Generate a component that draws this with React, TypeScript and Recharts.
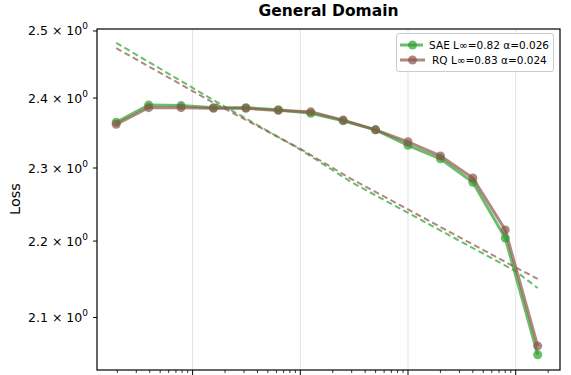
import { LineChart, Line, XAxis, YAxis, ReferenceLine } from "recharts";

// token counts (doubling each step)
const xTokens = [195312.5, 390625, 781250, 1562500, 3125000, 6250000, 12500000, 25000000, 50000000, 100000000, 200000000, 400000000, 800000000, 1600000000];
const saeLoss = [2.365, 2.390, 2.389, 2.386, 2.386, 2.383, 2.378, 2.367, 2.354, 2.332, 2.313, 2.280, 2.204, 2.053];
const rqLoss = [2.362, 2.386, 2.386, 2.385, 2.385, 2.382, 2.380, 2.368, 2.354, 2.337, 2.317, 2.286, 2.215, 2.064];

// power-law fits
const fitX = [195312.5, 1450000, 10000000, 30000000, 1000000000, 1600000000];
const saeFit = [2.482, 2.400, 2.326, 2.280, 2.160, 2.138];
const rqFit = [2.474, 2.396, 2.327, 2.2845, 2.165, 2.150];

const yTicks = [2.1, 2.2, 2.3, 2.4, 2.5];
const decades = [1e5, 1e6, 1e7, 1e8, 1e9];
const majorGrid = [1e6, 1e7, 1e8, 1e9];

const seriesMeta = [
  { name: "SAE L\u221e=0.82 \u03b1=0.026", color: "#2ca02c" },
  { name: "RQ L\u221e=0.83 \u03b1=0.024", color: "#8c564b" },
];

const X_DOMAIN: [number, number] = [1.295e5, 2.578e9];
const Y_DOMAIN: [number, number] = [2.034, 2.503];
const FONT = "'DejaVu Sans', sans-serif";

const xTicks: number[] = [];
decades.forEach((d) => {
  for (let m = 1; m <= 9; m++) {
    const v = d * m;
    if (v >= X_DOMAIN[0] && v <= X_DOMAIN[1]) xTicks.push(v);
  }
});

const toPoints = (xs: number[], ys: number[]) => xs.map((x, i) => ({ x, y: ys[i] }));

const saeData = toPoints(xTokens, saeLoss);
const rqData = toPoints(xTokens, rqLoss);
const saeFitData = toPoints(fitX, saeFit);
const rqFitData = toPoints(fitX, rqFit);

const XTick = ({ x, y, payload }: { x?: number; y?: number; payload?: { value: number } }) => {
  const v = payload?.value ?? 1;
  const lg = Math.log10(v);
  const major = Math.abs(lg - Math.round(lg)) < 1e-9;
  return <line x1={x} x2={x} y1={y} y2={(y ?? 0) + (major ? 5 : 3)} stroke="#000" strokeWidth={major ? 1 : 0.8} />;
};

const YTick = ({ x, y, payload }: { x?: number; y?: number; payload?: { value: number } }) => (
  <text x={x} y={(y ?? 0) + 4.5} textAnchor="end" fontFamily={FONT} fontSize={12.5} fill="#000">
    <tspan>{(payload?.value ?? 0).toFixed(1)} {"\u00d7"} 10</tspan>
    <tspan dy={-6} fontSize={9}>0</tspan>
  </text>
);

const LegendBox = () => (
  <div
    style={{
      position: "absolute",
      left: 396,
      top: 33,
      width: 158,
      border: "1px solid #cccccc",
      borderRadius: 3,
      background: "rgba(255,255,255,0.8)",
      fontFamily: FONT,
      fontSize: 10.5,
      padding: "3px 4px 3px 2px",
      boxSizing: "border-box",
      zIndex: 3,
    }}
  >
    {seriesMeta.map((s) => (
      <div key={s.name} style={{ display: "flex", alignItems: "center", height: 15.5 }}>
        <svg width={27} height={12} style={{ marginRight: 6 }}>
          <line x1={1} x2={26} y1={6} y2={6} stroke={s.color} strokeOpacity={0.7} strokeWidth={3} />
          <circle cx={13.5} cy={6} r={4.5} fill={s.color} fillOpacity={0.7} />
        </svg>
        <span style={{ whiteSpace: "nowrap" }}>{s.name}</span>
      </div>
    ))}
  </div>
);

export default function App() {
  return (
    <div style={{ position: "relative", width: 571, height: 375, overflow: "hidden", background: "#fff" }}>
      <style>{`body { margin: 0; }`}</style>
      <div
        style={{
          position: "absolute",
          left: 97,
          width: 463,
          top: 2,
          textAlign: "center",
          fontFamily: FONT,
          fontWeight: "bold",
          fontSize: 15.5,
          zIndex: 2,
        }}
      >
        General Domain
      </div>
      <div
        style={{
          position: "absolute",
          left: 15,
          top: 199,
          transform: "translate(-50%, -50%) rotate(-90deg)",
          fontFamily: FONT,
          fontSize: 14.5,
          zIndex: 2,
        }}
      >
        Loss
      </div>
      <LineChart width={571} height={400} margin={{ top: 29, right: 11, left: 0, bottom: 10 }}>
        <XAxis
          dataKey="x"
          type="number"
          scale="log"
          domain={X_DOMAIN}
          allowDataOverflow
          ticks={xTicks}
          interval={0}
          tick={<XTick />}
          tickLine={false}
          axisLine={false}
          tickSize={0}
          tickMargin={0}
          height={20}
        />
        <YAxis
          type="number"
          scale="log"
          domain={Y_DOMAIN}
          allowDataOverflow
          ticks={yTicks}
          interval={0}
          width={97}
          tick={<YTick />}
          tickSize={4}
          tickMargin={5}
          tickLine={{ stroke: "#000" }}
          axisLine={false}
        />
        {majorGrid.map((g) => (
          <ReferenceLine key={g} x={g} stroke="#e3e3e3" strokeWidth={1} />
        ))}
        <Line data={saeData} dataKey="y" type="linear" stroke="#2ca02c" strokeOpacity={0.7} strokeWidth={3}
          dot={{ r: 4.5, fill: "#2ca02c", fillOpacity: 0.7, stroke: "none" }} isAnimationActive={false} name={seriesMeta[0].name} />
        <Line data={saeFitData} dataKey="y" type="linear" stroke="#2ca02c" strokeOpacity={0.7} strokeWidth={2}
          strokeDasharray="6 3.5" dot={false} isAnimationActive={false} />
        <Line data={rqData} dataKey="y" type="linear" stroke="#8c564b" strokeOpacity={0.7} strokeWidth={3}
          dot={{ r: 4.5, fill: "#8c564b", fillOpacity: 0.7, stroke: "none" }} isAnimationActive={false} name={seriesMeta[1].name} />
        <Line data={rqFitData} dataKey="y" type="linear" stroke="#8c564b" strokeOpacity={0.7} strokeWidth={2}
          strokeDasharray="6 3.5" dot={false} isAnimationActive={false} />
      </LineChart>
      {/* plot frame (spines), drawn above the data */}
      <svg width={571} height={375} style={{ position: "absolute", left: 0, top: 0, pointerEvents: "none", zIndex: 2 }}>
        <rect x={97} y={29} width={463} height={341} fill="none" stroke="#000" strokeWidth={1.2} />
      </svg>
      <LegendBox />
    </div>
  );
}
